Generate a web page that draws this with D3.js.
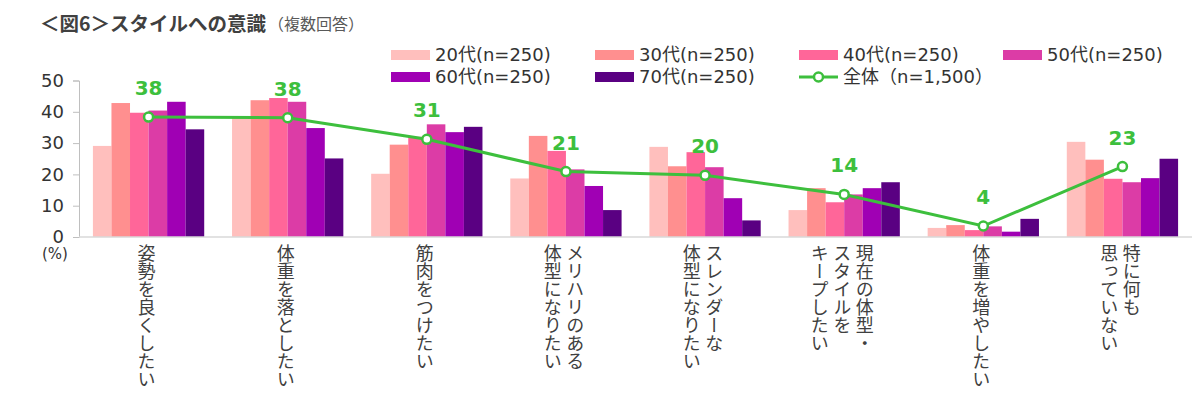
<!DOCTYPE html>
<html><head><meta charset="utf-8">
<script src="https://cdn.jsdelivr.net/npm/d3@7"></script>
<style>
body{margin:0;background:#fff;}
svg{display:block;font-family:"DejaVu Sans","Noto Sans CJK JP",sans-serif;}
</style></head>
<body><svg id="c" width="1200" height="410"></svg>
<script>
const categories = ["姿勢を良くしたい","体重を落としたい","筋肉をつけたい","メリハリのある\n体型になりたい","スレンダーな\n体型になりたい","現在の体型・\nスタイルを\nキープしたい","体重を増やしたい","特に何も\n思っていない"];
const seriesNames = ["20代(n=250)","30代(n=250)","40代(n=250)","50代(n=250)","60代(n=250)","70代(n=250)"];
const s20 = [29.1, 38.0, 20.2, 18.7, 28.8, 8.6, 2.9, 30.4];
const s30 = [42.8, 43.7, 29.5, 32.3, 22.6, 15.6, 3.8, 24.7];
const s40 = [39.7, 44.4, 32.0, 27.5, 27.1, 11.1, 2.2, 18.6];
const s50 = [40.4, 43.2, 36.0, 21.6, 22.3, 13.6, 3.4, 17.5];
const s60 = [43.2, 34.8, 33.5, 16.3, 12.4, 15.6, 1.7, 18.8];
const s70 = [34.4, 25.1, 35.2, 8.6, 5.3, 17.5, 5.8, 25.0];
const totalName = "全体（n=1,500）";
const total = [38.3, 38.1, 31.2, 20.9, 19.7, 13.6, 3.5, 22.5];
const totalLabels = ["38","38","31","21","20","14","4","23"];
const yTicks = [0,10,20,30,40,50];
const colors = ["#FFBFBD","#FF8F8F","#FF6699","#DC3CA6","#A000B4","#5A0082"];
const green = "#3DBF3D";
const series = [s20,s30,s40,s50,s60,s70];

const svg = d3.select("#c");
const x = d3.scaleBand().domain(d3.range(categories.length)).range([79,1192]).paddingInner(0.2).paddingOuter(0.1);
const xi = d3.scaleBand().domain(d3.range(series.length)).range([0,x.bandwidth()]);
const y = d3.scaleLinear().domain([0,50]).range([237,80.5]);

// title
svg.append("text").attr("x",40).attr("y",31).attr("font-size",19.5).attr("font-weight","bold").attr("fill","#404040")
  .attr("font-family","'Noto Sans CJK JP',sans-serif").text("＜図6＞スタイルへの意識");
svg.append("text").attr("x",268).attr("y",30).attr("font-size",16).attr("fill","#595959")
  .attr("font-family","'Noto Sans CJK JP',sans-serif").text("（複数回答）");

// y axis
const ya = svg.append("g").attr("transform","translate(79,0)")
  .call(d3.axisLeft(y).tickValues(yTicks).tickSize(6).tickPadding(9));
ya.select(".domain").attr("stroke","#BFBFBF");
ya.selectAll(".tick line").attr("stroke","#BFBFBF");
ya.selectAll(".tick text").attr("font-size",18).attr("fill","#333").attr("font-family","'DejaVu Sans',sans-serif");
svg.append("text").attr("x",55).attr("y",259).attr("font-size",15).attr("fill","#333").attr("text-anchor","middle").text("(%)");

// bars
series.forEach((s,si)=>{
  svg.append("g").selectAll("rect").data(s).join("rect")
    .attr("x",(d,i)=>x(i)+xi(si)).attr("width",xi.bandwidth())
    .attr("y",d=>y(d)).attr("height",d=>y(0)-y(d)).attr("fill",colors[si]);
});

// x axis baseline
svg.append("line").attr("x1",79).attr("x2",1192).attr("y1",y(0)).attr("y2",y(0)).attr("stroke","#D9D9D9").attr("stroke-width",1.5);

// line
const cx = i=>x(i)+x.bandwidth()/2;
svg.append("path").datum(total).attr("fill","none").attr("stroke",green).attr("stroke-width",3)
  .attr("d",d3.line().x((d,i)=>cx(i)).y(d=>y(d)));
svg.append("g").selectAll("circle").data(total).join("circle")
  .attr("cx",(d,i)=>cx(i)).attr("cy",d=>y(d)).attr("r",4.5).attr("fill","#fff").attr("stroke",green).attr("stroke-width",2.5);
svg.append("g").selectAll("text").data(total).join("text")
  .attr("x",(d,i)=>cx(i)).attr("y",d=>y(d)-22).attr("text-anchor","middle")
  .attr("font-size",20).attr("font-weight","bold").attr("fill",green)
  .attr("font-family","Verdana,'DejaVu Sans',sans-serif")
  .text((d,i)=>totalLabels[i]);

// category labels (vertical)
categories.forEach((c,i)=>{
  const lines = c.split("\n");
  const gap = 22.5;
  const n = lines.length;
  lines.forEach((ln,li)=>{
    const colX = cx(i) - 2 + ((n-1)/2 - li)*gap;
    svg.append("text").attr("x",colX).attr("y",244)
      .attr("font-size",18).attr("fill","#404040")
      .attr("font-family","'Noto Sans CJK JP',sans-serif")
      .style("writing-mode","vertical-rl")
      .text(ln);
  });
});

// legend
const legX = [391,595,799,1003];
const legY = [55,77];
const legItems = seriesNames.map((n,i)=>({name:n,color:colors[i],type:"bar"})).concat([{name:totalName,color:green,type:"line"}]);
legItems.forEach((it,i)=>{
  const col = i%4, row = Math.floor(i/4);
  const gx = legX[col], gy = legY[row];
  const g = svg.append("g");
  if(it.type==="bar"){
    g.append("rect").attr("x",gx).attr("y",gy-5).attr("width",39).attr("height",10).attr("fill",it.color);
  } else {
    g.append("line").attr("x1",gx).attr("x2",gx+39).attr("y1",gy).attr("y2",gy).attr("stroke",it.color).attr("stroke-width",3);
    g.append("circle").attr("cx",gx+19.5).attr("cy",gy).attr("r",4.5).attr("fill","#fff").attr("stroke",it.color).attr("stroke-width",2.5);
  }
  g.append("text").attr("x",gx+44).attr("y",gy).attr("dy","0.36em").attr("font-size",18).attr("fill","#333").text(it.name);
});
</script></body></html>
